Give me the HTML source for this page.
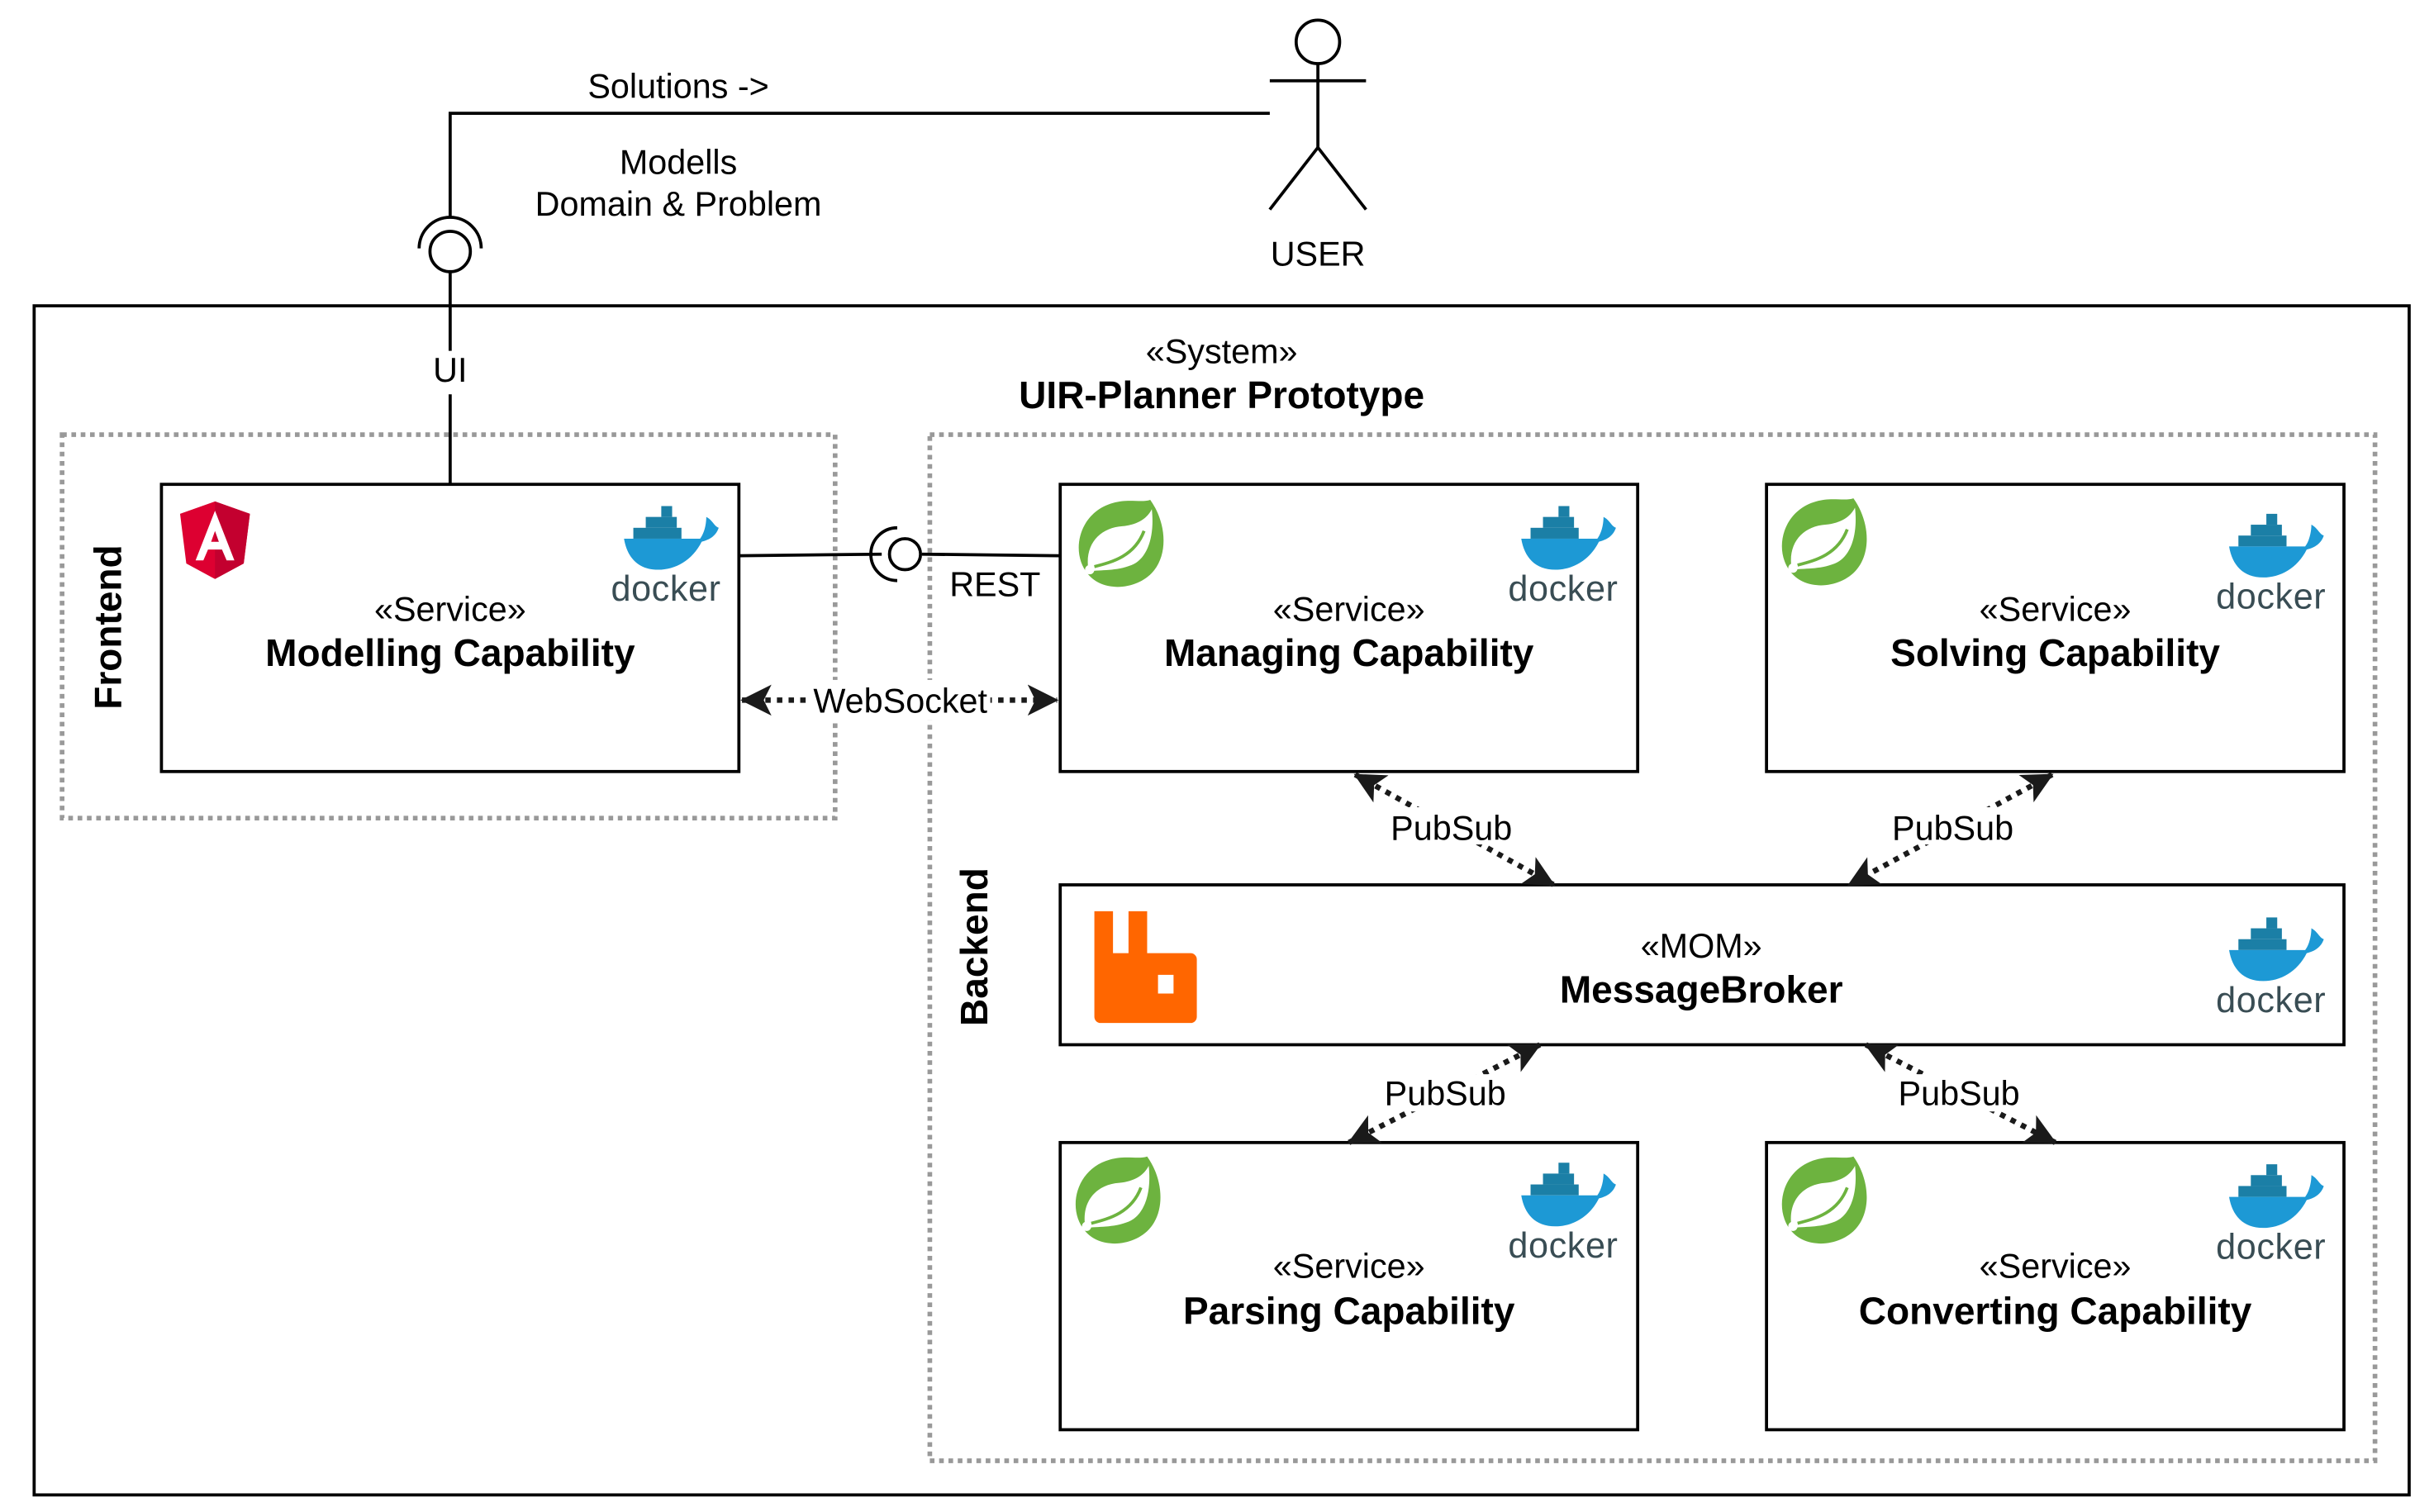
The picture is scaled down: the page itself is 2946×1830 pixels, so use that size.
<!DOCTYPE html>
<html><head><meta charset="utf-8"><style>
html,body{margin:0;padding:0;background:#fff}
svg{display:block}
text{font-family:"Liberation Sans",Arial,sans-serif;fill:#000}
.n{font-size:22px}
.b{font-size:24.5px;font-weight:bold}
.dk{font-size:23px;fill:#394d54;letter-spacing:0.3px}
</style></head><body>
<svg width="2946" height="1830" viewBox="0 0 1568 974" preserveAspectRatio="none" xmlns="http://www.w3.org/2000/svg">
<defs>
<marker id="ah" viewBox="0 0 20 20" refX="19" refY="10" markerWidth="20" markerHeight="20" markerUnits="userSpaceOnUse" orient="auto-start-reverse">
<path d="M0,0 L20,10 L0,20 L5,10 Z" fill="#1a1a1a"/>
</marker>
</defs>

<!-- Actor -->
<g stroke="#000" stroke-width="2" fill="none">
<circle cx="849" cy="27" r="14"/>
<line x1="849" y1="41" x2="849" y2="95"/>
<line x1="818" y1="52" x2="880" y2="52"/>
<line x1="849" y1="95" x2="818" y2="135"/>
<line x1="849" y1="95" x2="880" y2="135"/>
</g>
<text class="n" x="849" y="171" text-anchor="middle">USER</text>

<!-- user line -->
<polyline points="818,73 290,73 290,140" fill="none" stroke="#000" stroke-width="2"/>
<text class="n" x="437" y="63" text-anchor="middle">Solutions -&gt;</text>
<text class="n" x="437" y="112" text-anchor="middle">Modells</text>
<text class="n" x="437" y="139" text-anchor="middle">Domain &amp; Problem</text>
<path d="M270,160 A20,20 0 0 1 310,160" fill="none" stroke="#000" stroke-width="2"/>
<circle cx="290" cy="162" r="13" fill="#fff" stroke="#000" stroke-width="2"/>

<!-- System box -->
<rect x="22" y="197" width="1530" height="766" fill="none" stroke="#000" stroke-width="2"/>
<text class="n" x="787" y="234" text-anchor="middle">«System»</text>
<text class="b" x="787" y="263" text-anchor="middle">UIR-Planner Prototype</text>

<line x1="290" y1="175" x2="290" y2="226" stroke="#000" stroke-width="2"/>
<line x1="290" y1="254" x2="290" y2="312" stroke="#000" stroke-width="2"/>
<text class="n" x="290" y="246" text-anchor="middle">UI</text>

<!-- Frontend / Backend dotted -->
<rect x="40" y="280" width="498" height="247" fill="none" stroke="#999" stroke-width="3" stroke-dasharray="3,3"/>
<rect x="599" y="280" width="931" height="661" fill="none" stroke="#999" stroke-width="3" stroke-dasharray="3,3"/>
<text class="b" transform="translate(78,404) rotate(-90)" text-anchor="middle">Frontend</text>
<text class="b" transform="translate(636,610) rotate(-90)" text-anchor="middle">Backend</text>

<!-- boxes -->
<g fill="#fff" stroke="#000" stroke-width="2">
<rect x="104" y="312" width="372" height="185"/>
<rect x="683" y="312" width="372" height="185"/>
<rect x="1138" y="312" width="372" height="185"/>
<rect x="683" y="570" width="827" height="103"/>
<rect x="683" y="736" width="372" height="185"/>
<rect x="1138" y="736" width="372" height="185"/>
</g>

<text class="n" x="290" y="400" text-anchor="middle">«Service»</text>
<text class="b" x="290" y="429" text-anchor="middle">Modelling Capability</text>
<text class="n" x="869" y="400" text-anchor="middle">«Service»</text>
<text class="b" x="869" y="429" text-anchor="middle">Managing Capability</text>
<text class="n" x="1324" y="400" text-anchor="middle">«Service»</text>
<text class="b" x="1324" y="429" text-anchor="middle">Solving Capability</text>
<text class="n" x="1096" y="617" text-anchor="middle">«MOM»</text>
<text class="b" x="1096" y="646" text-anchor="middle">MessageBroker</text>
<text class="n" x="869" y="823" text-anchor="middle">«Service»</text>
<text class="b" x="869" y="853" text-anchor="middle">Parsing Capability</text>
<text class="n" x="1324" y="823" text-anchor="middle">«Service»</text>
<text class="b" x="1324" y="853" text-anchor="middle">Converting Capability</text>

<!-- REST -->
<line x1="476" y1="358" x2="568" y2="357" stroke="#000" stroke-width="2"/>
<line x1="594" y1="357" x2="683" y2="358" stroke="#000" stroke-width="2"/>
<path d="M578,340 A17,17 0 0 0 578,374" fill="none" stroke="#000" stroke-width="2"/>
<circle cx="583" cy="357" r="10" fill="#fff" stroke="#000" stroke-width="2"/>
<text class="n" x="641" y="384" text-anchor="middle">REST</text>

<!-- WebSocket -->
<line x1="478" y1="451" x2="681" y2="451" stroke="#1a1a1a" stroke-width="3.5" stroke-dasharray="3.5,4" marker-start="url(#ah)" marker-end="url(#ah)"/>
<rect x="520" y="438" width="118" height="26" fill="#fff"/>
<text class="n" x="580" y="459" text-anchor="middle">WebSocket</text>

<!-- PubSub -->
<g stroke="#1a1a1a" stroke-width="3.5" stroke-dasharray="3.5,4" fill="none">
<line x1="873" y1="499" x2="1001" y2="570" marker-start="url(#ah)" marker-end="url(#ah)"/>
<line x1="1322" y1="499" x2="1191" y2="570" marker-start="url(#ah)" marker-end="url(#ah)"/>
<line x1="992" y1="673" x2="869" y2="736" marker-start="url(#ah)" marker-end="url(#ah)"/>
<line x1="1202" y1="673" x2="1324" y2="736" marker-start="url(#ah)" marker-end="url(#ah)"/>
</g>
<g fill="#fff">
<rect x="893" y="520" width="84" height="24"/>
<rect x="1216" y="520" width="84" height="24"/>
<rect x="889" y="692" width="84" height="24"/>
<rect x="1220" y="692" width="84" height="24"/>
</g>
<text class="n" x="935" y="541" text-anchor="middle">PubSub</text>
<text class="n" x="1258" y="541" text-anchor="middle">PubSub</text>
<text class="n" x="931" y="712" text-anchor="middle">PubSub</text>
<text class="n" x="1262" y="712" text-anchor="middle">PubSub</text>

<!-- Angular -->
<g transform="translate(116,323)">
<path d="M22.5,0 L45,8 L41,40 L22.5,50 L4,40 L0,8 Z" fill="#dd0031"/>
<path d="M22.5,0 L45,8 L41,40 L22.5,50 Z" fill="#c3002f"/>
<path d="M22.5,6 L10,38 L15,38 L18,31 L27,31 L30,38 L35,38 Z M20,26 L22.5,19 L25,26 Z" fill="#fff"/>
</g>

<!-- RabbitMQ -->
<path d="M705,587 h12 v27 h10 v-27 h12 v27 h28 a4,4 0 0 1 4,4 v37 a4,4 0 0 1 -4,4 h-58 a4,4 0 0 1 -4,-4 Z M746,628 v12 h10 v-12 Z" fill="#ff6600" fill-rule="evenodd"/>

<!-- Spring logos -->
<g transform="translate(693,320)">
<path d="M48,2 C58,16 60,36 50,48 C40,60 18,62 8,50 C-4,36 2,10 24,4 C34,1 42,4 48,2 Z" fill="#6db33f"/>
<path d="M8,46 C6,30 16,20 30,19 C40,18 46,14 49,8 C51,26 46,40 36,44 C26,48 16,47 9,48 Z" fill="#fff"/>
<path d="M12,45 C24,42 38,38 44,22" fill="none" stroke="#6db33f" stroke-width="2"/>
<circle cx="9" cy="47" r="3" fill="#fff"/>
</g>
<g transform="translate(1146,319)">
<path d="M48,2 C58,16 60,36 50,48 C40,60 18,62 8,50 C-4,36 2,10 24,4 C34,1 42,4 48,2 Z" fill="#6db33f"/>
<path d="M8,46 C6,30 16,20 30,19 C40,18 46,14 49,8 C51,26 46,40 36,44 C26,48 16,47 9,48 Z" fill="#fff"/>
<path d="M12,45 C24,42 38,38 44,22" fill="none" stroke="#6db33f" stroke-width="2"/>
<circle cx="9" cy="47" r="3" fill="#fff"/>
</g>
<g transform="translate(691,743)">
<path d="M48,2 C58,16 60,36 50,48 C40,60 18,62 8,50 C-4,36 2,10 24,4 C34,1 42,4 48,2 Z" fill="#6db33f"/>
<path d="M8,46 C6,30 16,20 30,19 C40,18 46,14 49,8 C51,26 46,40 36,44 C26,48 16,47 9,48 Z" fill="#fff"/>
<path d="M12,45 C24,42 38,38 44,22" fill="none" stroke="#6db33f" stroke-width="2"/>
<circle cx="9" cy="47" r="3" fill="#fff"/>
</g>
<g transform="translate(1146,743)">
<path d="M48,2 C58,16 60,36 50,48 C40,60 18,62 8,50 C-4,36 2,10 24,4 C34,1 42,4 48,2 Z" fill="#6db33f"/>
<path d="M8,46 C6,30 16,20 30,19 C40,18 46,14 49,8 C51,26 46,40 36,44 C26,48 16,47 9,48 Z" fill="#fff"/>
<path d="M12,45 C24,42 38,38 44,22" fill="none" stroke="#6db33f" stroke-width="2"/>
<circle cx="9" cy="47" r="3" fill="#fff"/>
</g>

<!-- Docker logos -->
<g transform="translate(393,325)">
<g fill="#1b7fa6"><rect x="33" y="1" width="7" height="7"/><rect x="23" y="8" width="20" height="7"/><rect x="15" y="15" width="31" height="7"/></g>
<path d="M9,22 L58,22 C61,18 62,12 62,8 C66,10 67,14 70,15 C68,21 63,23 59,24 C53,36 42,42 31,42 C18,42 11,34 9,22 Z" fill="#1d99d5"/>
<text class="dk" x="36" y="62" text-anchor="middle">docker</text>
</g>
<g transform="translate(971,325)">
<g fill="#1b7fa6"><rect x="33" y="1" width="7" height="7"/><rect x="23" y="8" width="20" height="7"/><rect x="15" y="15" width="31" height="7"/></g>
<path d="M9,22 L58,22 C61,18 62,12 62,8 C66,10 67,14 70,15 C68,21 63,23 59,24 C53,36 42,42 31,42 C18,42 11,34 9,22 Z" fill="#1d99d5"/>
<text class="dk" x="36" y="62" text-anchor="middle">docker</text>
</g>
<g transform="translate(1427,330)">
<g fill="#1b7fa6"><rect x="33" y="1" width="7" height="7"/><rect x="23" y="8" width="20" height="7"/><rect x="15" y="15" width="31" height="7"/></g>
<path d="M9,22 L58,22 C61,18 62,12 62,8 C66,10 67,14 70,15 C68,21 63,23 59,24 C53,36 42,42 31,42 C18,42 11,34 9,22 Z" fill="#1d99d5"/>
<text class="dk" x="36" y="62" text-anchor="middle">docker</text>
</g>
<g transform="translate(1427,590)">
<g fill="#1b7fa6"><rect x="33" y="1" width="7" height="7"/><rect x="23" y="8" width="20" height="7"/><rect x="15" y="15" width="31" height="7"/></g>
<path d="M9,22 L58,22 C61,18 62,12 62,8 C66,10 67,14 70,15 C68,21 63,23 59,24 C53,36 42,42 31,42 C18,42 11,34 9,22 Z" fill="#1d99d5"/>
<text class="dk" x="36" y="62" text-anchor="middle">docker</text>
</g>
<g transform="translate(971,748)">
<g fill="#1b7fa6"><rect x="33" y="1" width="7" height="7"/><rect x="23" y="8" width="20" height="7"/><rect x="15" y="15" width="31" height="7"/></g>
<path d="M9,22 L58,22 C61,18 62,12 62,8 C66,10 67,14 70,15 C68,21 63,23 59,24 C53,36 42,42 31,42 C18,42 11,34 9,22 Z" fill="#1d99d5"/>
<text class="dk" x="36" y="62" text-anchor="middle">docker</text>
</g>
<g transform="translate(1427,749)">
<g fill="#1b7fa6"><rect x="33" y="1" width="7" height="7"/><rect x="23" y="8" width="20" height="7"/><rect x="15" y="15" width="31" height="7"/></g>
<path d="M9,22 L58,22 C61,18 62,12 62,8 C66,10 67,14 70,15 C68,21 63,23 59,24 C53,36 42,42 31,42 C18,42 11,34 9,22 Z" fill="#1d99d5"/>
<text class="dk" x="36" y="62" text-anchor="middle">docker</text>
</g>
</svg>
</body></html>
